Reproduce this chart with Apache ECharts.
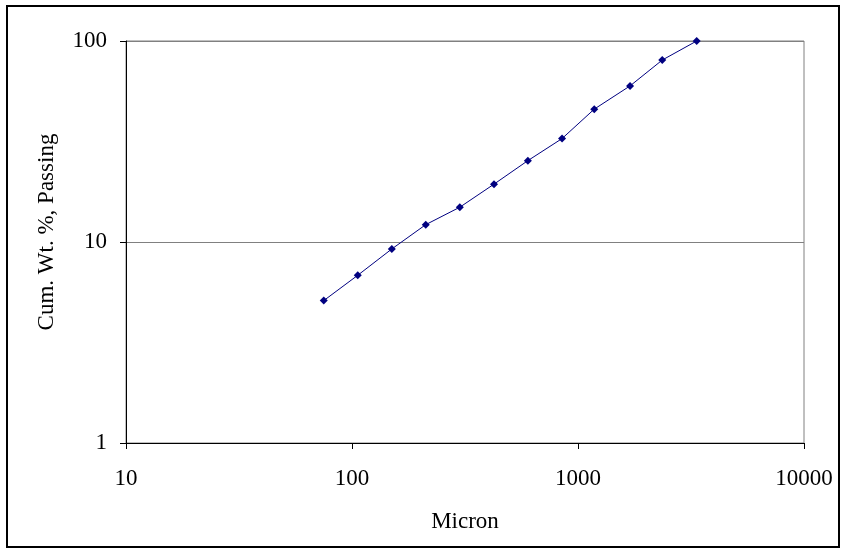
<!DOCTYPE html>
<html>
<head>
<meta charset="utf-8">
<script src="https://cdn.jsdelivr.net/npm/echarts@6/dist/echarts.min.js"></script>
<style>html,body{margin:0;padding:0;background:#fff;}#c{width:845px;height:552px;}</style>
</head>
<body>
<div id="c"></div>
<script>
var micron = [75, 106, 150, 212, 300, 425, 600, 850, 1180, 1700, 2360, 3350];
var passing = [5.11, 6.83, 9.23, 12.2, 14.9, 19.4, 25.4, 32.7, 45.8, 59.8, 80.4, 100];
var xTicks = [10, 100, 1000, 10000];
var yTicks = [1, 10, 100];

var chart = echarts.init(document.getElementById('c'), null, {renderer: 'canvas'});
var font = 'Liberation Serif';
var fs = 23;
var pts = micron.map(function (m, i) { return [m, passing[i]]; });
chart.setOption({
  animation: false,
  backgroundColor: '#fff',
  graphic: [{
    type: 'rect', shape: {x: 7, y: 6, width: 832, height: 541},
    style: {fill: 'none', stroke: '#000', lineWidth: 2}, silent: true, z: 100
  }],
  grid: {left: 126, right: 41, top: 41, bottom: 109, show: true, borderColor: '#808080', borderWidth: 1, backgroundColor: 'transparent'},
  xAxis: {
    type: 'log', logBase: 10, min: 10, max: 10000,
    name: 'Micron', nameLocation: 'middle', nameGap: 67,
    nameTextStyle: {fontFamily: font, fontSize: fs, color: '#000'},
    axisLine: {show: true, lineStyle: {color: '#000', width: 1}},
    axisTick: {show: true, inside: false, length: 6, lineStyle: {color: '#000'}},
    minorTick: {show: false},
    axisLabel: {fontFamily: font, fontSize: fs, color: '#000', margin: 24,
      formatter: function (v) { return xTicks.indexOf(Math.round(v)) >= 0 ? String(Math.round(v)) : ''; }},
    splitLine: {show: false}
  },
  yAxis: {
    type: 'log', logBase: 10, min: 1, max: 100,
    name: 'Cum. Wt. %, Passing', nameLocation: 'middle', nameGap: 68,
    nameTextStyle: {fontFamily: font, fontSize: fs, color: '#000', padding: [0, 0, 0, 20]},
    axisLine: {show: true, lineStyle: {color: '#000', width: 1}},
    axisTick: {show: true, inside: false, length: 6, lineStyle: {color: '#000'}},
    minorTick: {show: false},
    axisLabel: {fontFamily: font, fontSize: fs, color: '#000', margin: 19,
      formatter: function (v) { return yTicks.indexOf(Math.round(v)) >= 0 ? String(Math.round(v)) : ''; }},
    splitLine: {show: true, lineStyle: {color: '#808080', width: 1}}
  },
  series: [{
    type: 'line', data: pts,
    symbol: 'diamond', symbolSize: 8,
    itemStyle: {color: '#000080'},
    lineStyle: {color: '#000080', width: 1}
  }]
});
</script>
</body>
</html>
